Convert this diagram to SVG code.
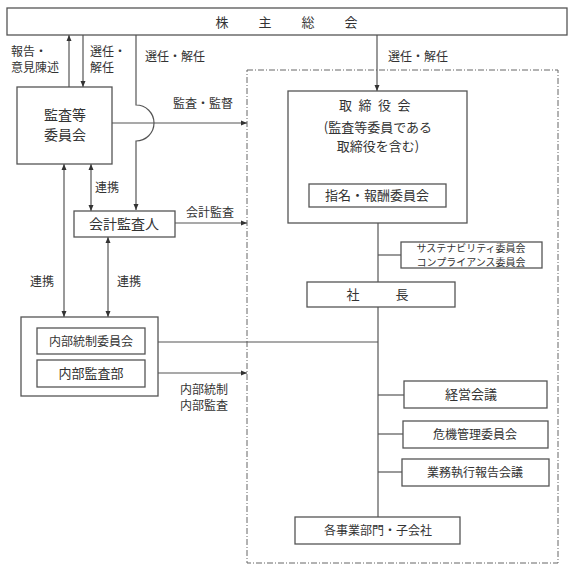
<svg xmlns="http://www.w3.org/2000/svg" width="573" height="587" viewBox="0 0 573 587">
<style>
.box{fill:#fff;stroke:#555;stroke-width:1.3}
.ln{fill:none;stroke:#555;stroke-width:1.2}
text{font-family:"Noto Sans CJK JP","Noto Sans CJK SC",sans-serif;fill:#333;font-size:12px}
.c{text-anchor:middle}
.dash{fill:none;stroke:#666;stroke-width:1;stroke-dasharray:6 2 1 2}
</style>
<defs>
<marker id="ah" viewBox="0 0 6 6" refX="6" refY="3" markerWidth="6" markerHeight="6" orient="auto-start-reverse" markerUnits="userSpaceOnUse">
<path d="M0,0.5 L6,3 L0,5.5 Z" fill="#333"/>
</marker>
</defs>
<rect width="573" height="587" fill="#fff"/>
<rect class="dash" x="247" y="70" width="311" height="493"/>

<g id="connectors">
<line class="ln" x1="69" y1="87" x2="69" y2="35" marker-end="url(#ah)"/>
<line class="ln" x1="83" y1="35" x2="83" y2="87" marker-end="url(#ah)"/>
<path class="ln" d="M136,35 V105 A18,18 0 0 1 136,141 V210" marker-end="url(#ah)"/>
<line class="ln" x1="112" y1="123" x2="247" y2="123" marker-end="url(#ah)"/>
<line class="ln" x1="377" y1="35" x2="377" y2="91" marker-end="url(#ah)"/>
<line class="ln" x1="91" y1="164" x2="91" y2="211" marker-start="url(#ah)" marker-end="url(#ah)"/>
<line class="ln" x1="64" y1="164" x2="64" y2="317" marker-start="url(#ah)" marker-end="url(#ah)"/>
<line class="ln" x1="108" y1="237" x2="108" y2="317" marker-start="url(#ah)" marker-end="url(#ah)"/>
<line class="ln" x1="175" y1="223" x2="247" y2="223" marker-end="url(#ah)"/>
<line class="ln" x1="158" y1="373" x2="247" y2="373" marker-end="url(#ah)"/>
<line class="ln" x1="158" y1="342" x2="378" y2="342"/>
<line class="ln" x1="378" y1="223" x2="378" y2="517"/>
<line class="ln" x1="378" y1="255" x2="401" y2="255"/>
<line class="ln" x1="378" y1="395" x2="404" y2="395"/>
<line class="ln" x1="378" y1="434" x2="403" y2="434"/>
<line class="ln" x1="378" y1="472" x2="402" y2="472"/>
</g>

<g id="labels">
<text x="11" y="56">報告・</text>
<text x="11" y="72">意見陳述</text>
<text x="90" y="56">選任・</text>
<text x="90" y="72">解任</text>
<text x="145" y="61">選任・解任</text>
<text x="388" y="61">選任・解任</text>
<text x="173" y="108">監査・監督</text>
<text x="95" y="192">連携</text>
<text x="186" y="217">会計監査</text>
<text x="30" y="286">連携</text>
<text x="117" y="286">連携</text>
<text x="180" y="394">内部統制</text>
<text x="180" y="410">内部監査</text>
</g>

<g id="shareholders">
<rect class="box" x="7" y="8" width="560" height="27"/>
<text class="c" x="222" y="27" style="font-size:13px">株</text>
<text class="c" x="265" y="27" style="font-size:13px">主</text>
<text class="c" x="308" y="27" style="font-size:13px">総</text>
<text class="c" x="351" y="27" style="font-size:13px">会</text>
</g>
<g id="audit-committee">
<rect class="box" x="17" y="87" width="95" height="77"/>
<text class="c" x="65" y="120" style="font-size:14px">監査等</text>
<text class="c" x="65" y="140" style="font-size:14px">委員会</text>
</g>
<g id="board">
<rect class="box" x="288" y="91" width="179" height="132"/>
<text x="339" y="110" style="font-size:13px;letter-spacing:6.5px">取締役会</text>
<text class="c" x="378" y="132" style="font-size:13px">(監査等委員である</text>
<text class="c" x="378" y="151" style="font-size:13px">取締役を含む)</text>
</g>
<g id="nomination">
<rect class="box" x="309" y="184" width="137" height="23"/>
<text class="c" x="377" y="200" style="font-size:13px">指名・報酬委員会</text>
</g>
<g id="accounting-auditor">
<rect class="box" x="74" y="211" width="101" height="26"/>
<text class="c" x="124" y="229" style="font-size:14px">会計監査人</text>
</g>
<g id="sustainability">
<rect class="box" x="401" y="242" width="141" height="26"/>
<text class="c" x="471" y="252" style="font-size:10px">サステナビリティ委員会</text>
<text class="c" x="471" y="266" style="font-size:10px">コンプライアンス委員会</text>
</g>
<g id="president">
<rect class="box" x="307" y="282" width="148" height="25"/>
<text class="c" x="353" y="299" style="font-size:13px">社</text>
<text class="c" x="402" y="299" style="font-size:13px">長</text>
</g>
<g id="internal">
<rect class="box" x="21" y="317" width="137" height="79"/>
<rect class="box" x="37" y="328" width="108" height="26"/>
<text class="c" x="91" y="346">内部統制委員会</text>
<rect class="box" x="37" y="360" width="108" height="27"/>
<text class="c" x="91" y="378" style="font-size:13px">内部監査部</text>
</g>
<g id="management-meeting">
<rect class="box" x="404" y="381" width="143" height="27"/>
<text class="c" x="471" y="399" style="font-size:13px">経営会議</text>
</g>
<g id="risk">
<rect class="box" x="403" y="421" width="145" height="27"/>
<text class="c" x="475" y="439">危機管理委員会</text>
</g>
<g id="execution">
<rect class="box" x="402" y="459" width="147" height="27"/>
<text class="c" x="475" y="477">業務執行報告会議</text>
</g>
<g id="divisions">
<rect class="box" x="295" y="517" width="165" height="27"/>
<text class="c" x="378" y="535">各事業部門・子会社</text>
</g>
</svg>
